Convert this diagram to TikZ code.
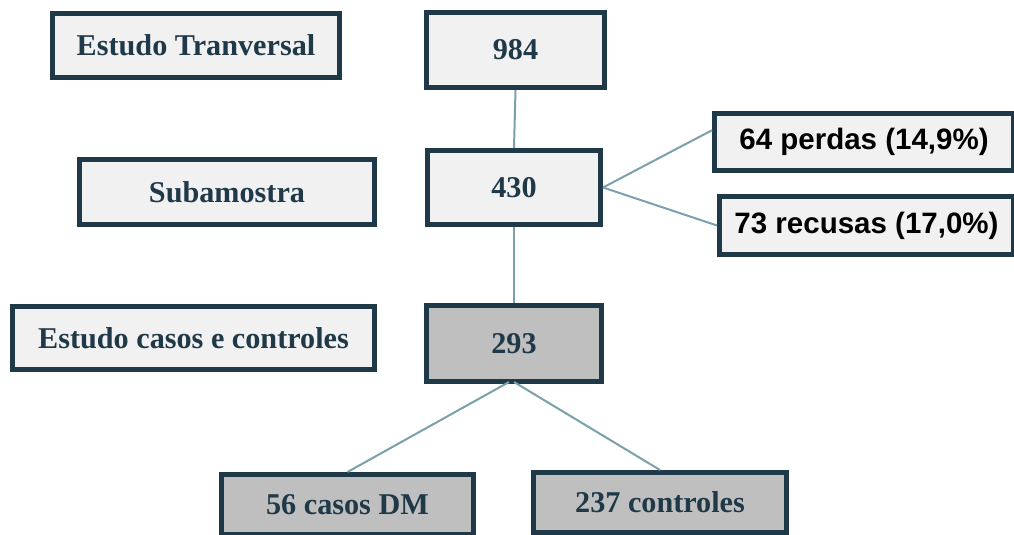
\documentclass[tikz,border=0pt]{standalone}
\usepackage{fontspec}
\setmainfont{Liberation Serif}
\newfontfamily\arialf{Liberation Sans}
\usetikzlibrary{calc}
\definecolor{bordc}{RGB}{31,57,72}
\definecolor{lightf}{RGB}{241,241,241}
\definecolor{greyf}{RGB}{191,191,191}
\definecolor{linec}{RGB}{122,160,171}
\tikzset{
  box/.style={draw=bordc, line width=5pt, fill=lightf, inner sep=0pt,
    font=\fontsize{30.2}{32}\selectfont\bfseries, text=bordc},
  gbox/.style={box, fill=greyf},
  sbox/.style={box, font=\arialf\fontsize{29.5}{32}\selectfont\bfseries, text=black},
  conn/.style={draw=linec, line width=2pt}
}
\begin{document}
\begin{tikzpicture}[x=1pt,y=-1pt]
\useasboundingbox (0,0) rectangle (1014,535);
\node[box, minimum width=287pt, minimum height=64pt] (t1) at (196,45.5) {Estudo Tranversal};
\node[box, minimum width=178pt, minimum height=75pt] (n984) at (515.5,50) {984};
\node[box, minimum width=295pt, minimum height=65pt] (sub) at (227,192) {Subamostra};
\node[box, minimum width=173pt, minimum height=74pt] (n430) at (514,187.5) {430};
\node[sbox, minimum width=299pt, minimum height=57pt] (perd) at (864,142) {64 perdas (14,9\%)};
\node[sbox, minimum width=294pt, minimum height=58pt] (recu) at (866.5,225.5) {73 recusas (17,0\%)};
\node[box, minimum width=362pt, minimum height=63pt] (ecc) at (193.5,338) {Estudo casos e controles};
\node[gbox, minimum width=175pt, minimum height=76pt] (n293) at (514,343.5) {293};
\node[gbox, minimum width=252pt, minimum height=60pt] (casos) at (347.5,504.5) {56 casos DM};
\node[gbox, minimum width=253pt, minimum height=60pt] (ctrl) at (660,502.5) {237 controles};
\draw[conn] (n984.south) -- (n430.north);
\draw[conn] (n430.south) -- (n293.north);
\draw[conn] (n430.east) -- ($(perd.south west)!0.69!(perd.north west)$);
\draw[conn] (n430.east) -- (recu.west);
\draw[conn] ($(n293.south)+(-5,-2)$) -- (casos.north);
\draw[conn] ($(n293.south)+(0,-2)$) -- (ctrl.north);
\end{tikzpicture}
\end{document}
